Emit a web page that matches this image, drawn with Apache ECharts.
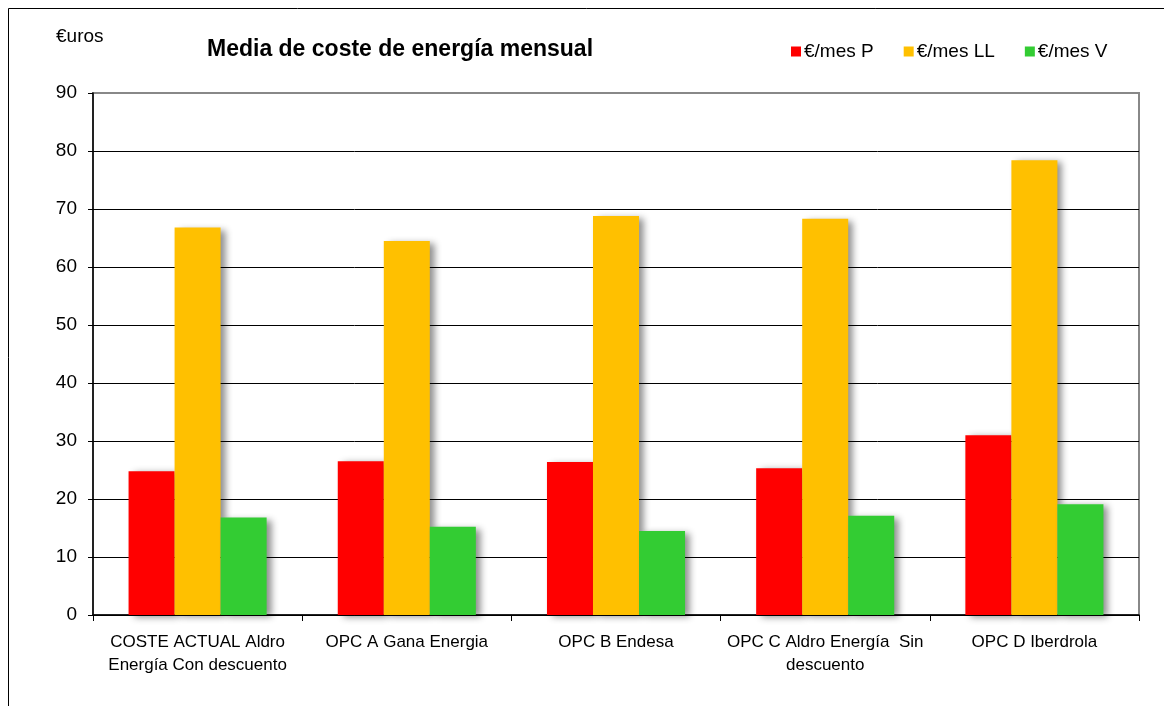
<!DOCTYPE html>
<html>
<head>
<meta charset="utf-8">
<script src="https://cdn.jsdelivr.net/npm/echarts@6/dist/echarts.min.js"></script>
<style>
  html, body { margin: 0; padding: 0; background: #fff; }
  #chart { width: 1164px; height: 706px; }
</style>
</head>
<body>
<div id="chart"></div>
<script>
var categories = [
    'COSTE ACTUAL Aldro\nEnergía Con descuento',
    'OPC A Gana Energia',
    'OPC B Endesa',
    'OPC C Aldro Energía  Sin\ndescuento',
    'OPC D Iberdrola'
];
var seriesNames = ['€/mes P', '€/mes LL', '€/mes V'];
var valuesP = [24.8, 26.5, 26.4, 25.3, 31.0];
var valuesLL = [66.8, 64.5, 68.8, 68.3, 78.4];
var valuesV = [16.8, 15.2, 14.5, 17.1, 19.1];
var colors = ['#FF0000', '#FFC000', '#33CC33'];

var mainChart = echarts.init(document.getElementById('chart'));

var barSeries = function (name, data, color) {
    return {
        name: name,
        type: 'bar',
        data: data,
        barGap: '0%',
        barCategoryGap: '34%',
        itemStyle: {
            color: color,
            shadowColor: 'rgba(0,0,0,0.45)',
            shadowBlur: 7,
            shadowOffsetX: 5,
            shadowOffsetY: 2
        }
    };
};

// top gridline (90) doubles as the grey plot border
var splitColors = ['#000', '#000', '#000', '#000', '#000', '#000', '#000', '#000', '#000', '#888'];

var option = {
    animation: false,
    textStyle: { fontFamily: 'Liberation Sans, Arial, sans-serif' },
    color: colors,
    title: {
        text: 'Media de coste de energía mensual',
        left: 202,
        top: 33,
        textStyle: { fontSize: 23, fontWeight: 'bold', color: '#000', fontFamily: 'Liberation Sans, Arial, sans-serif' }
    },
    legend: {
        data: seriesNames,
        left: 786,
        top: 37,
        itemWidth: 10,
        itemHeight: 10,
        itemGap: 30,
        icon: 'rect',
        textStyle: { fontSize: 19, color: '#000', padding: [0, 0, 0, -2] }
    },
    graphic: [
        {
            type: 'rect',
            shape: { x: 8.5, y: 8.5, width: 1200, height: 800 },
            style: { fill: 'none', stroke: '#000', lineWidth: 1 }
        },
        {
            type: 'text',
            left: 56,
            top: 27,
            style: { text: '€uros', fontSize: 19, fill: '#000', fontFamily: 'Liberation Sans, Arial, sans-serif' }
        }
    ],
    grid: {
        left: 93,
        top: 93,
        width: 1046,
        height: 522,
        show: true,
        borderColor: '#888',
        borderWidth: 2
    },
    xAxis: {
        type: 'category',
        data: categories,
        axisLine: { lineStyle: { color: '#000', width: 1.5 } },
        axisTick: { show: true, length: 6, lineStyle: { color: '#000' } },
        axisLabel: {
            interval: 0,
            margin: 16,
            fontSize: 17,
            lineHeight: 23,
            color: '#000',
            fontFamily: 'Liberation Sans Narrow, Arial Narrow, Liberation Sans, sans-serif'
        }
    },
    yAxis: {
        type: 'value',
        min: 0,
        max: 90,
        interval: 10,
        axisLine: { show: true, lineStyle: { color: '#000', width: 1.5 } },
        axisTick: { show: true, length: 5, lineStyle: { color: '#000' } },
        axisLabel: { fontSize: 19, color: '#000', margin: 16 },
        splitLine: { lineStyle: { color: splitColors, width: 1 } }
    },
    series: [
        barSeries(seriesNames[0], valuesP, colors[0]),
        barSeries(seriesNames[1], valuesLL, colors[1]),
        barSeries(seriesNames[2], valuesV, colors[2])
    ]
};

mainChart.setOption(option);
</script>
</body>
</html>
